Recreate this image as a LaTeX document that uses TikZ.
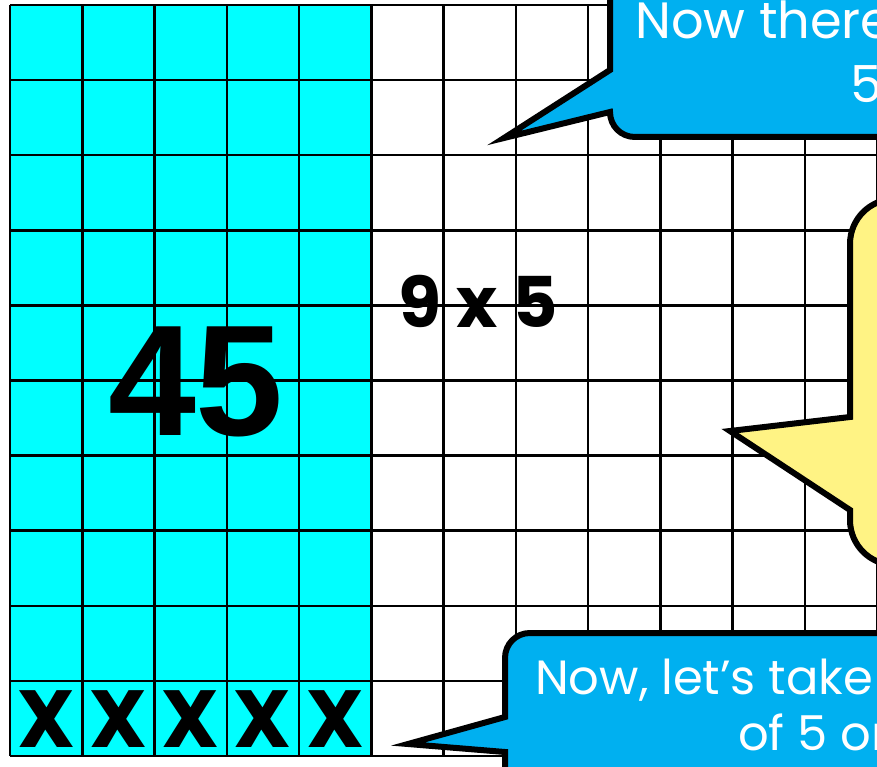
\documentclass[tikz,border=0pt]{standalone}
\usepackage{fontspec}
\setmainfont{Poppins}
\newfontfamily\arialb{Liberation Sans}
\definecolor{cyanfill}{HTML}{00FFFF}
\definecolor{callblue}{HTML}{00B0F0}
\definecolor{callyellow}{HTML}{FFF384}
\tikzset{
  gridline/.style={line width=2.5pt, black},
  callout/.style={line width=6pt, draw=black, line join=miter, miter limit=20},
  bluetext/.style={text=white, inner sep=0pt, font=\fontsize{51}{60}\selectfont},
  bluetextb/.style={text=white, inner sep=0pt, font=\fontsize{48}{56}\selectfont},
  xmark/.style={inner sep=0pt, font=\bfseries\fontsize{81}{90}\selectfont},
}
\begin{document}
\begin{tikzpicture}[x=1pt,y=-1pt]
\useasboundingbox (0,0) rectangle (877,767);
\clip (0,0) rectangle (877,767);
% cyan region
\fill[cyanfill] (10,5) rectangle (371,756);
% grid
\foreach \k in {0,...,12} {
  \draw[gridline] ({10+72.25*\k},5) -- ({10+72.25*\k},756);
}
\foreach \k in {0,...,10} {
  \draw[gridline] (10,{5+75.1*\k}) -- (890,{5+75.1*\k});
}
% big labels
\node[inner sep=0pt, anchor=base, font=\arialb\bfseries\fontsize{158}{165}\selectfont] (n45) at (196,435) {45};
\node[inner sep=0pt, anchor=base west, font=\bfseries\fontsize{70}{78}\selectfont] (mult) at (398,327) {9 x 5};
\foreach \k in {0,...,4} {
  \node[xmark, anchor=base] (x\k) at ({10+72.25*(\k+0.5)},747) {X};
}
% top blue callout
\fill[callblue, callout] (610,-10) -- (610,70) -- (504,138) -- (610,112)
  .. controls (610,126) and (621,137) .. (635,137) -- (895,137) -- (895,-10) -- cycle;
\node[bluetext, anchor=base west] (t1) at (635,39) {Now there};
\node[bluetext, anchor=base west] (t2) at (850,103) {5};
% yellow callout
\fill[callyellow, callout] (900,199) -- (895,199) .. controls (870,199) and (850,219) .. (850,244)
  -- (850,417) -- (730,431) -- (850,510) -- (850,520)
  .. controls (850,545) and (870,565) .. (895,565) -- (900,565) -- cycle;
% bottom blue callout
\fill[callblue, callout] (895,780) -- (895,633) -- (530,633)
  .. controls (516,633) and (505,644) .. (505,658) -- (505,717) -- (408,744) -- (505,752)
  -- (505,780) -- cycle;
\node[bluetextb, anchor=base west] (b1) at (535,694) {Now, let’s take};
\node[bluetextb, anchor=base west] (b2) at (738,750) {of 5 or};
\end{tikzpicture}
\end{document}
